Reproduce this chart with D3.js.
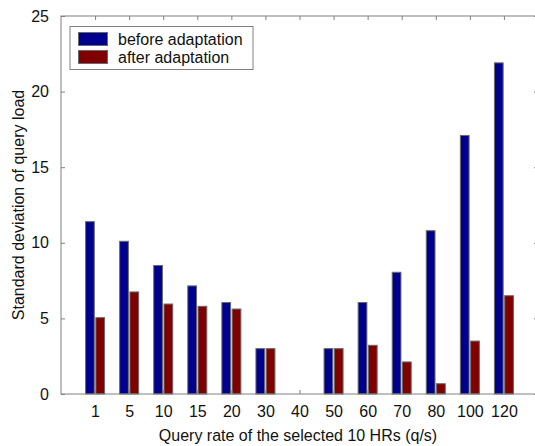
<!DOCTYPE html>
<html>
<head>
<meta charset="utf-8">
<script src="https://cdn.jsdelivr.net/npm/d3@7"></script>
<style>
  body { margin: 0; background: #fff; }
  text { font-family: "Liberation Sans", Arial, sans-serif; fill: #111; }
</style>
</head>
<body>
<div id="chart"></div>
<script>
// data
var rates = ["1", "5", "10", "15", "20", "30", "40", "50", "60", "70", "80", "100", "120"];
var series = ["before adaptation", "after adaptation"];
var beforeVals = [11.4, 10.1, 8.5, 7.15, 6.05, 3.0, 0, 3.0, 6.05, 8.05, 10.8, 17.1, 21.9];
var afterVals = [5.05, 6.75, 5.95, 5.8, 5.62, 3.0, 0, 3.0, 3.22, 2.12, 0.68, 3.5, 6.5];
var yTicks = [0, 5, 10, 15, 20, 25];
var colors = ["#00008f", "#800000"];

var w = 535; // chart width
var h = 446; // chart height
// plot box edges (right edge sits just past the window, as in the picture)
var boxL = 61, boxT = 16, boxR = 538, boxB = 394;

var svg = d3.select("#chart")
    .append("svg")
    .attr("width", w)
    .attr("height", h);

var x = d3.scaleLinear().domain([0, rates.length + 1]).range([boxL, boxR]);
var y = d3.scaleLinear().domain([0, 25]).range([boxB, boxT]);
var xSub = d3.scaleBand().domain(series).range([-9.5, 9.5]).paddingInner(0.15);

var table = rates.map(function (r, i) {
    return { rate: r, pos: i + 1, vals: [beforeVals[i], afterVals[i]] };
});

// bars
var groups = svg.append("g").selectAll("g")
    .data(table)
    .enter()
    .append("g")
    .attr("transform", function (d) { return "translate(" + x(d.pos) + ",0)"; });

groups.selectAll("rect")
    .data(function (d) {
        return d.vals
            .map(function (v, j) { return { s: series[j], v: v, j: j }; })
            .filter(function (e) { return e.v > 0; });
    })
    .enter()
    .append("rect")
    .attr("x", function (d) { return xSub(d.s); })
    .attr("width", xSub.bandwidth())
    .attr("y", function (d) { return y(d.v); })
    .attr("height", function (d) { return y(0) - y(d.v); })
    .attr("fill", function (d) { return colors[d.j]; })
    .attr("stroke", "#6a6a6a")
    .attr("stroke-width", 1);

// axes box
var axisColor = "#808080";
svg.append("rect")
    .attr("x", boxL).attr("y", boxT)
    .attr("width", boxR - boxL).attr("height", boxB - boxT)
    .attr("fill", "none")
    .attr("stroke", axisColor)
    .attr("stroke-width", 1);

var xBottom = d3.axisBottom(x)
    .tickValues(d3.range(1, rates.length + 1))
    .tickFormat(function (d) { return rates[d - 1]; })
    .tickSizeInner(-4).tickSizeOuter(0).tickPadding(12);
var gx = svg.append("g").attr("transform", "translate(0," + boxB + ")").call(xBottom);
gx.select(".domain").remove();
gx.selectAll("line").attr("stroke", axisColor);
gx.selectAll("text").style("font-size", "16px").attr("fill", "#111");

var xTop = d3.axisTop(x)
    .tickValues(d3.range(1, rates.length + 1))
    .tickFormat("")
    .tickSizeInner(-4).tickSizeOuter(0);
var gxt = svg.append("g").attr("transform", "translate(0," + boxT + ")").call(xTop);
gxt.select(".domain").remove();
gxt.selectAll("line").attr("stroke", axisColor);

var yLeft = d3.axisLeft(y).tickValues(yTicks)
    .tickSizeInner(-4).tickSizeOuter(0).tickPadding(12);
var gy = svg.append("g").attr("transform", "translate(" + boxL + ",0)").call(yLeft);
gy.select(".domain").remove();
gy.selectAll("line").attr("stroke", axisColor);
gy.selectAll("text").style("font-size", "16px").attr("fill", "#111");

var yRight = d3.axisRight(y).tickValues(yTicks).tickFormat("")
    .tickSizeInner(-4).tickSizeOuter(0);
var gyr = svg.append("g").attr("transform", "translate(" + boxR + ",0)").call(yRight);
gyr.select(".domain").remove();
gyr.selectAll("line").attr("stroke", axisColor);

// axis labels
svg.append("text")
    .attr("x", 298)
    .attr("y", 441)
    .attr("text-anchor", "middle")
    .style("font-size", "16px")
    .text("Query rate of the selected 10 HRs (q/s)");

svg.append("text")
    .attr("transform", "translate(24," + ((boxT + boxB) / 2) + ") rotate(-90)")
    .attr("text-anchor", "middle")
    .style("font-size", "16px")
    .text("Standard deviation of query load");

// legend
var legend = svg.append("g");
legend.append("rect")
    .attr("x", 70).attr("y", 26.5)
    .attr("width", 183).attr("height", 43)
    .attr("fill", "#fff")
    .attr("stroke", axisColor);

series.forEach(function (s, i) {
    legend.append("rect")
        .attr("x", 78.5).attr("y", 32.5 + i * 18)
        .attr("width", 29).attr("height", 13)
        .attr("fill", colors[i])
        .attr("stroke", "#6a6a6a");
    legend.append("text")
        .attr("x", 118).attr("y", 44.5 + i * 18)
        .style("font-size", "16px")
        .text(s);
});
</script>
</body>
</html>
